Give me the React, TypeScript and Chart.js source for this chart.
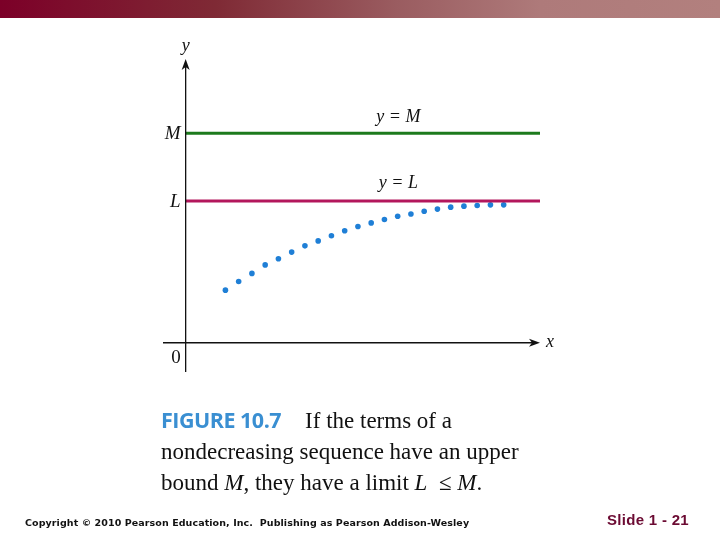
import React, { useEffect, useRef } from "react";
import { Chart, registerables } from "chart.js";

Chart.register(...registerables);

// Sequence terms a_n (in units where L = 1), plotted at positions along x
const termIndex: number[] = [3, 4, 5, 6, 7, 8, 9, 10, 11, 12, 13, 14, 15, 16, 17, 18, 19, 20, 21, 22, 23, 24];
const termValues: number[] = [0.371, 0.432, 0.489, 0.549, 0.592, 0.639, 0.683, 0.718, 0.754, 0.789, 0.820, 0.845, 0.869, 0.892, 0.908, 0.927, 0.942, 0.956, 0.963, 0.968, 0.972, 0.972];
const limitL = 1;
const boundM = 1.477;
const lineStartX = 0;
const lineEndX = 26.8;
const xMin = -1.71;
const xMax = 26.74;
const yMin = -0.206;
const yMax = 2.0;

const captionLines: string[] = [
  "If the terms of a",
  "nondecreasing sequence have an upper",
];

const axesPlugin = {
  id: "axesPlugin",
  afterDatasetsDraw(chart: any) {
    const { ctx, chartArea, scales } = chart;
    const xs = scales.x;
    const ys = scales.y;
    const x0 = xs.getPixelForValue(0);
    const y0 = ys.getPixelForValue(0);
    ctx.save();
    ctx.strokeStyle = "#111";
    ctx.fillStyle = "#111";
    ctx.lineWidth = 1.3;
    // x axis
    ctx.beginPath();
    ctx.moveTo(chartArea.left, y0);
    ctx.lineTo(chartArea.right - 4, y0);
    ctx.stroke();
    ctx.beginPath();
    ctx.moveTo(chartArea.right, y0);
    ctx.lineTo(chartArea.right - 11, y0 - 4);
    ctx.lineTo(chartArea.right - 8, y0);
    ctx.lineTo(chartArea.right - 11, y0 + 4);
    ctx.closePath();
    ctx.fill();
    // y axis
    ctx.beginPath();
    ctx.moveTo(x0, chartArea.bottom);
    ctx.lineTo(x0, chartArea.top + 4);
    ctx.stroke();
    ctx.beginPath();
    ctx.moveTo(x0, chartArea.top);
    ctx.lineTo(x0 - 4, chartArea.top + 11);
    ctx.lineTo(x0, chartArea.top + 8);
    ctx.lineTo(x0 + 4, chartArea.top + 11);
    ctx.closePath();
    ctx.fill();

    // labels
    ctx.font = "italic 18px 'Liberation Serif', 'DejaVu Serif', serif";
    ctx.textBaseline = "middle";
    ctx.textAlign = "center";
    ctx.fillText("y", x0, chartArea.top - 13);
    ctx.fillText("x", chartArea.right + 10, y0 - 1);
    ctx.font = "italic 19px 'Liberation Serif', 'DejaVu Serif', serif";
    ctx.textAlign = "right";
    ctx.fillText("M", x0 - 5, ys.getPixelForValue(boundM) + 1);
    ctx.fillText("L", x0 - 5, ys.getPixelForValue(limitL) + 1);
    ctx.font = "19px 'Liberation Serif', 'DejaVu Serif', serif";
    ctx.fillText("0", x0 - 5, y0 + 15);

    const mid = xs.getPixelForValue(16.05);
    ctx.textAlign = "center";
    ctx.font = "italic 18px 'Liberation Serif', 'DejaVu Serif', serif";
    ctx.fillText("y = M", mid, ys.getPixelForValue(boundM) - 16);
    ctx.fillText("y = L", mid, ys.getPixelForValue(limitL) - 18);
    ctx.restore();
  },
};

export default function App() {
  const ref = useRef<HTMLCanvasElement>(null);
  useEffect(() => {
    if (!ref.current) return;
    const chart = new Chart(ref.current, {
      type: "scatter",
      data: {
        datasets: [
          {
            label: "M",
            data: [
              { x: lineStartX, y: boundM },
              { x: lineEndX, y: boundM },
            ],
            showLine: true,
            borderColor: "#1c7a1c",
            borderWidth: 3,
            pointRadius: 0,
          },
          {
            label: "L",
            data: [
              { x: lineStartX, y: limitL },
              { x: lineEndX, y: limitL },
            ],
            showLine: true,
            borderColor: "#b3175c",
            borderWidth: 3,
            pointRadius: 0,
          },
          {
            label: "a_n",
            data: termIndex.map((n, i) => ({ x: n, y: termValues[i] })),
            backgroundColor: "#1f7fd6",
            borderColor: "#1f7fd6",
            pointRadius: 2.8,
            pointBorderWidth: 0,
          },
        ],
      },
      options: {
        responsive: false,
        animation: false,
        layout: { padding: { left: 163, right: 180, top: 59, bottom: 168 } },
        plugins: { legend: { display: false }, tooltip: { enabled: false } },
        scales: {
          x: { type: "linear", min: xMin, max: xMax, display: false },
          y: { type: "linear", min: yMin, max: yMax, display: false },
        },
      },
      plugins: [axesPlugin],
    });
    return () => chart.destroy();
  }, []);

  const serif = "'Liberation Serif', 'DejaVu Serif', serif";
  return (
    <div style={{ position: "fixed", left: 0, top: 0, width: 720, height: 540, background: "#fff", overflow: "hidden" }}>
      <div
        style={{
          position: "absolute",
          left: 0,
          top: 0,
          width: 720,
          height: 18,
          background: "linear-gradient(to right, #7c0028 0%, #7f2a35 30%, #9a5c60 55%, #ae7a7a 75%, #b2807e 100%)",
        }}
      />
      <canvas ref={ref} width={720} height={540} style={{ position: "absolute", left: 0, top: 0 }} />
      <div style={{ position: "absolute", left: 161, top: 404, fontFamily: serif, fontSize: 23, lineHeight: "31px", color: "#111", whiteSpace: "nowrap" }}>
        <div>
          <span style={{ fontFamily: "'Open Sans', 'Noto Sans', sans-serif", fontWeight: 700, color: "#3a8fd2", fontSize: 21.5, letterSpacing: -0.5 }}>FIGURE 10.7</span>
          <span style={{ marginLeft: 24 }}>{captionLines[0]}</span>
        </div>
        <div>{captionLines[1]}</div>
        <div>
          bound <i>M</i>, they have a limit <i>L</i> &nbsp;≤ <i>M</i>.
        </div>
      </div>
      <div style={{ position: "absolute", left: 25, top: 517, fontFamily: "'DejaVu Sans', sans-serif", fontWeight: 700, fontSize: 9.5, letterSpacing: 0.08, color: "#111", whiteSpace: "nowrap" }}>
        Copyright © 2010 Pearson Education, Inc.&nbsp; Publishing as Pearson Addison-Wesley
      </div>
      <div style={{ position: "absolute", left: 607, top: 511, fontFamily: "'Liberation Sans', Arial, sans-serif", fontWeight: 700, fontSize: 15, letterSpacing: 0.3, color: "#6b0a32", whiteSpace: "nowrap" }}>
        Slide 1 - 21
      </div>
    </div>
  );
}
